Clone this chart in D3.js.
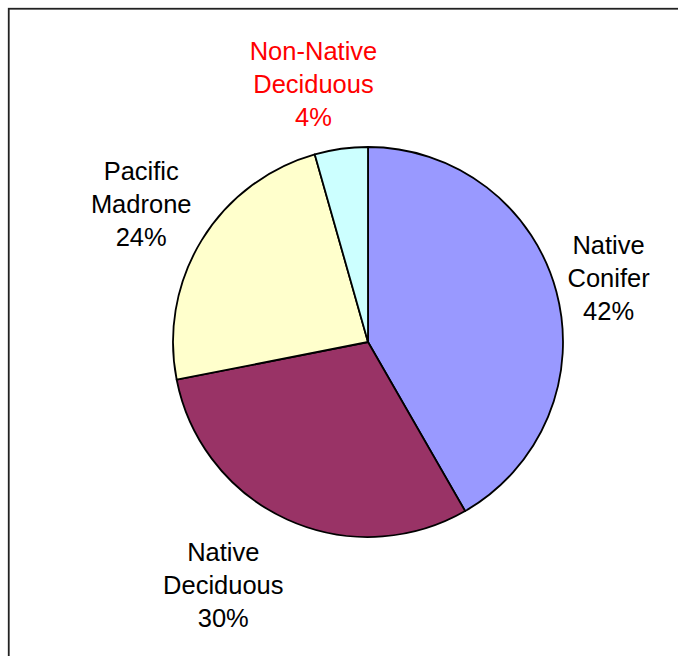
<!DOCTYPE html>
<html>
<head>
<meta charset="utf-8">
<script src="https://cdn.jsdelivr.net/npm/d3@7"></script>
<style>
  html, body { margin: 0; padding: 0; background: #fff; }
  svg { display: block; }
</style>
</head>
<body>
<script>
// ---- data ----
const categories = ["Native Conifer", "Native Deciduous", "Pacific Madrone", "Non-Native Deciduous"];
const labelLines = [["Native", "Conifer"], ["Native", "Deciduous"], ["Pacific", "Madrone"], ["Non-Native", "Deciduous"]];
const values = [41.7, 30.2, 23.7, 4.4];
const percentLabels = ["42%", "30%", "24%", "4%"];
const colors = ["#9999FF", "#993366", "#FFFFCC", "#CCFFFF"];
const labelColors = ["#000000", "#000000", "#000000", "#FF0000"];

// ---- layout ----
const W = 678, H = 656;
const cx = 368, cy = 342, R = 195;
const labelRadius = [249, 282, 266, 264];
const labelAngleNudge = [0, 6.4, 0, -4]; // degrees
const lineGap = 33;

const svg = d3.select("body").append("svg")
  .attr("width", W).attr("height", H);

svg.append("rect")
  .attr("x", 8.75).attr("y", 8.75)
  .attr("width", W + 20).attr("height", H + 20)
  .attr("fill", "#fff")
  .attr("stroke", "#222")
  .attr("stroke-width", 1.8);

const pie = d3.pie().sort(null).value(d => d)
  .startAngle(0).endAngle(2 * Math.PI);
const arcs = pie(values);
const arc = d3.arc().innerRadius(0).outerRadius(R);

const g = svg.append("g").attr("transform", `translate(${cx},${cy})`);

g.selectAll("path.slice")
  .data(arcs)
  .join("path")
  .attr("class", "slice")
  .attr("d", arc)
  .attr("fill", (d, i) => colors[i])
  .attr("stroke", "#000")
  .attr("stroke-width", 1.8)
  .attr("stroke-linejoin", "round");

g.selectAll("text.lbl")
  .data(arcs)
  .join("text")
  .attr("class", "lbl")
  .attr("text-anchor", "middle")
  .attr("font-family", "'Liberation Sans', Arial, sans-serif")
  .attr("font-size", 25.5)
  .attr("fill", (d, i) => labelColors[i])
  .each(function (d, i) {
    const mid = (d.startAngle + d.endAngle) / 2 + labelAngleNudge[i] * Math.PI / 180;
    const x = Math.sin(mid) * labelRadius[i];
    const y = -Math.cos(mid) * labelRadius[i];
    const lines = labelLines[i].concat([percentLabels[i]]);
    const t = d3.select(this);
    lines.forEach((s, k) => {
      t.append("tspan")
        .attr("x", x)
        .attr("y", y + 9.5 + (k - 1) * lineGap)
        .text(s);
    });
  });
</script>
</body>
</html>
